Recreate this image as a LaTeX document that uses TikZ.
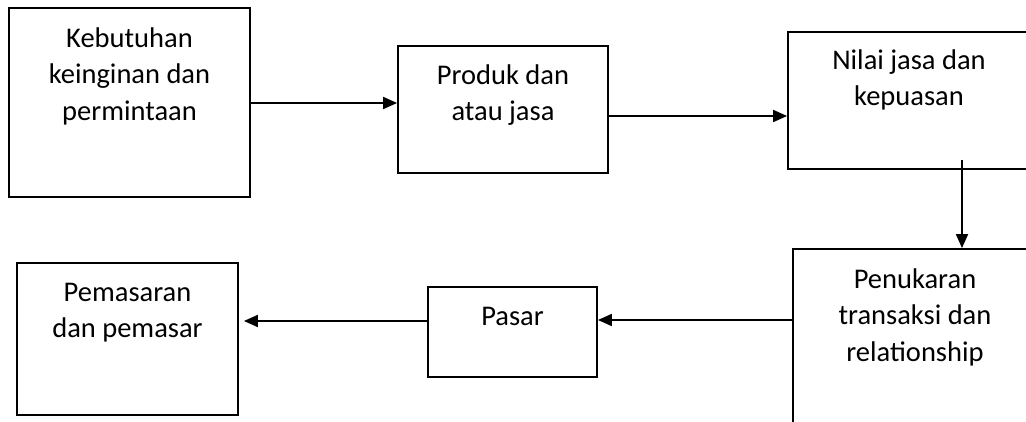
\documentclass[tikz,border=0pt]{standalone}
\usepackage{fontspec}
\setmainfont{Carlito}
\usetikzlibrary{arrows.meta,fit}
\newcommand{\fst}{\rule{0pt}{21pt}}
\begin{document}
\begin{tikzpicture}[x=1pt,y=-1pt,
  box/.style={draw, line width=1.8pt, rectangle, inner sep=0pt},
  txt/.style={align=center, anchor=north, inner sep=0pt, font=\fontsize{28.5}{36.5}\selectfont},
  arr/.style={line width=1.8pt, -{Triangle[length=14pt,width=12pt]}}]
\useasboundingbox (0,0) rectangle (1026,422);
\clip (0,0) rectangle (1026,422);
\fill[white] (0,0) rectangle (1026,422);

\node[box, fit={(9,8) (250,197)}] (b1) {};
\node[box, fit={(398,46) (608,173)}] (b2) {};
\node[box, fit={(788,32) (1030,169)}] (b3) {};
\node[box, fit={(793,249) (1037,480)}] (b4) {};
\node[box, fit={(428,287) (597,377)}] (b5) {};
\node[box, fit={(17,263) (238,415)}] (b6) {};

\node[txt] (t1) at ([yshift=-19pt]b1.north) {\fst Kebutuhan\\keinginan dan\\permintaan};
\node[txt] (t2) at ([yshift=-18pt]b2.north) {\fst Produk dan\\atau jasa};
\node[txt] (t3) at ([yshift=-17pt]b3.north) {\fst Nilai jasa dan\\kepuasan};
\node[txt] (t4) at ([yshift=-18pt]b4.north |- 0,249) {\fst Penukaran\\transaksi dan\\relationship};
\node[txt] (t5) at ([yshift=-18pt]b5.north) {\fst Pasar};
\node[txt] (t6) at ([yshift=-18pt]b6.north) {\fst Pemasaran\\dan pemasar};

\coordinate (c3) at (962,160);
\draw[arr] (b1.east |- 0,103) -- (b2.west |- 0,103);
\draw[arr] (b2.east |- 0,116) -- (b3.west |- 0,116);
\draw[arr] (c3) -- (b4.north -| c3);
\draw[arr] (b4.west |- 0,320) -- (b5.east |- 0,320);
\draw[arr, shorten >=5pt] (b5.west |- 0,321) -- (b6.east |- 0,321);
\end{tikzpicture}
\end{document}
